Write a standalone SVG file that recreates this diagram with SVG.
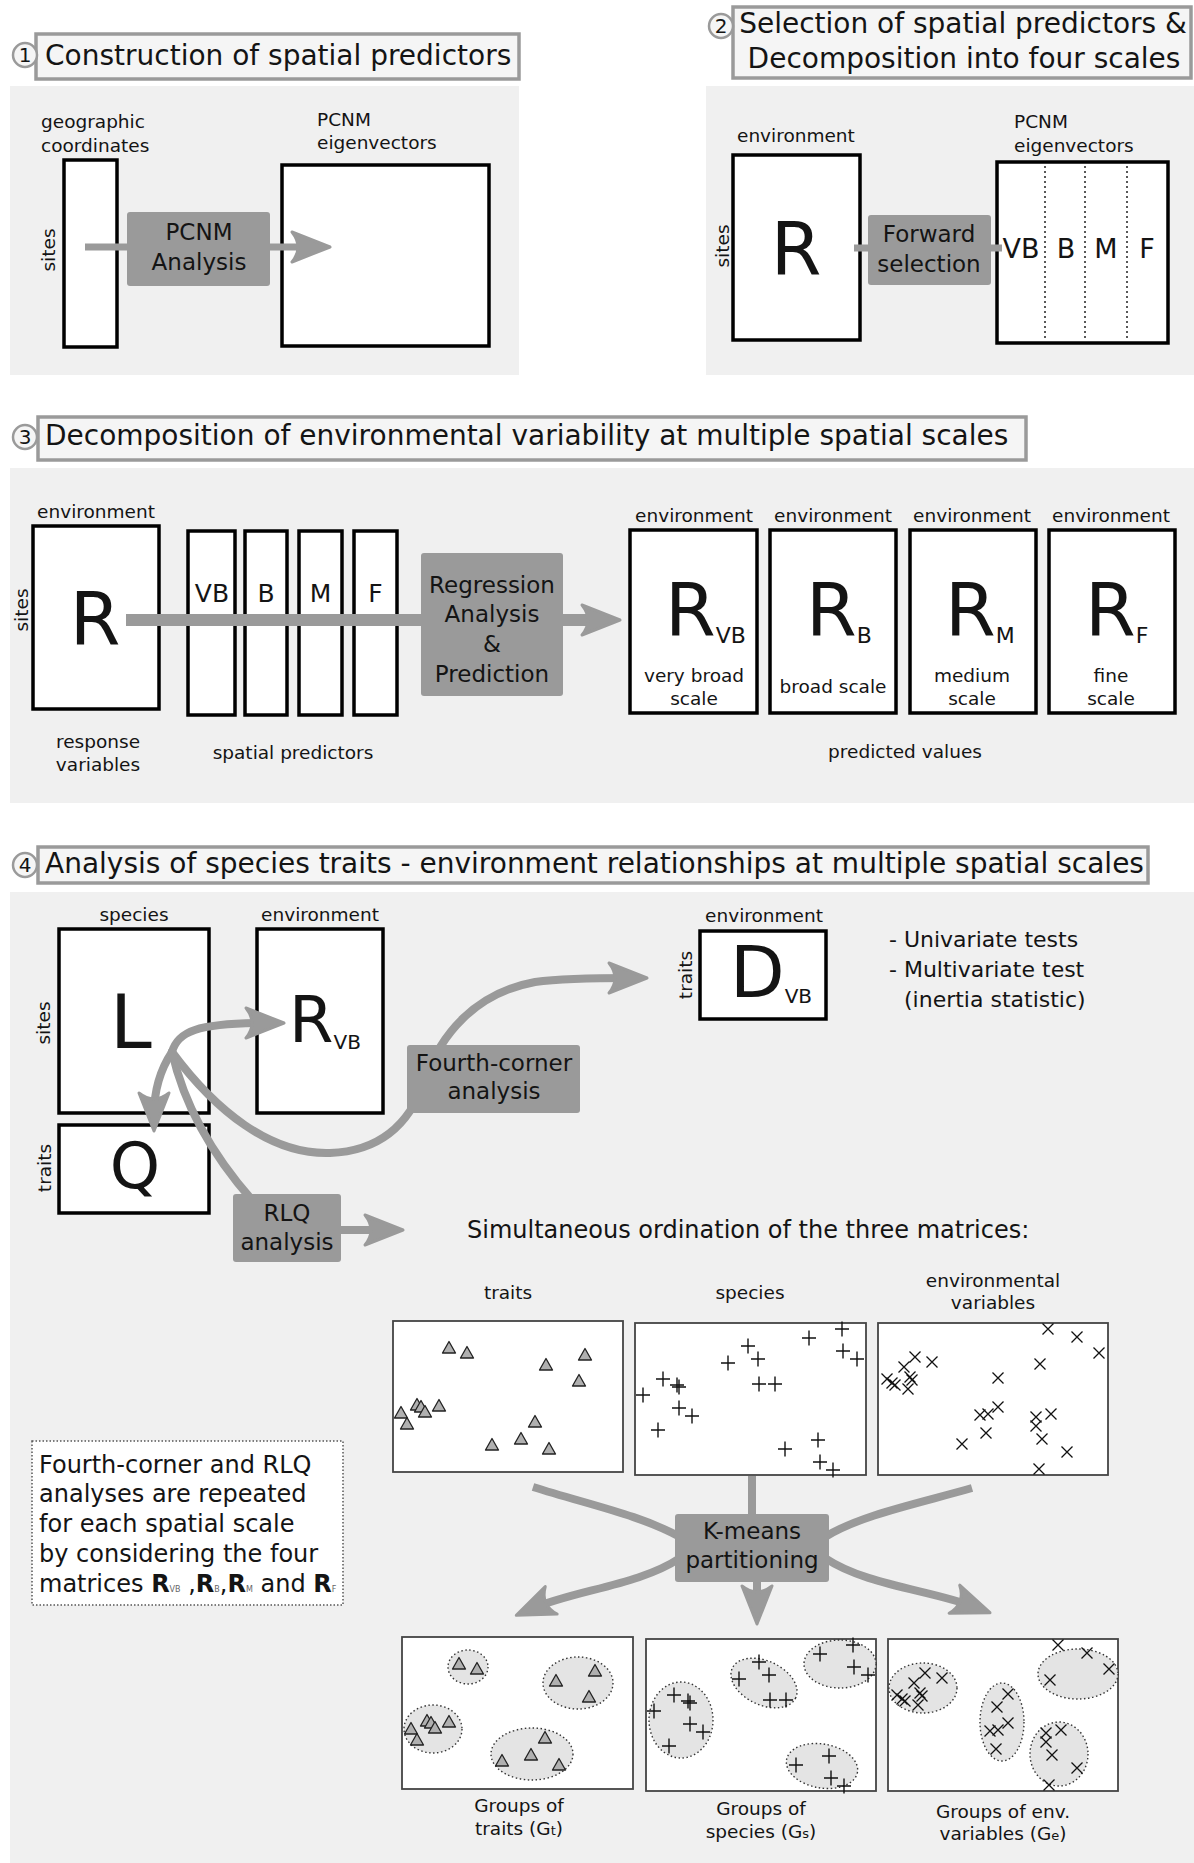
<svg xmlns="http://www.w3.org/2000/svg" width="1194" height="1863" viewBox="0 0 1194 1863">
<style>
text{font-family:"DejaVu Sans","Liberation Sans",sans-serif;fill:#141414}
.ttl{font-size:28px}
.lb{font-size:18.5px}
.m{text-anchor:middle}
.bt{font-size:23px;text-anchor:middle}
.pbg{fill:#f0f0f0}
.tb{fill:#f5f5f5;stroke:#9a9a9a;stroke-width:3.5}
.nc{fill:#f5f5f5;stroke:#9a9a9a;stroke-width:2.5}
.nt{font-size:20px;text-anchor:middle}
.mat{fill:#fff;stroke:#000;stroke-width:3.5}
.box{fill:#9a9a9a}
.plot{fill:#fff;stroke:#444;stroke-width:1.8}
.ell{fill:#e4e4e4;stroke:#333;stroke-width:1.4;stroke-dasharray:1.5 2.5}
.conn path{fill:none;stroke:#9a9a9a}
.big{font-size:73px}
.dot{stroke:#222;stroke-width:1.5;stroke-dasharray:2 3}
</style>
<defs>
<marker id="ah" markerUnits="userSpaceOnUse" viewBox="-2 -18 46 36" markerWidth="46" markerHeight="36" refX="24" refY="0" orient="auto">
<path d="M40,0 L2,-15 C10,-5 10,5 2,15 Z" fill="#9a9a9a" stroke="#9a9a9a" stroke-width="3" stroke-linejoin="round"/>
</marker>
<path id="tri" d="M0,-6.5 L6.5,5 L-6.5,5 Z" fill="#b0b0b0" stroke="#222" stroke-width="1.3" stroke-linejoin="round"/>
<path id="pl" d="M-7,0H7M0,-7.5V7.5" stroke="#111" stroke-width="1.4"/>
<path id="xx" d="M-5.5,-5.5L5.5,5.5M-5.5,5.5L5.5,-5.5" stroke="#111" stroke-width="1.3"/>
<g id="ptsT">
<use href="#tri" x="449" y="1348"/><use href="#tri" x="467" y="1353"/><use href="#tri" x="546" y="1365"/><use href="#tri" x="585" y="1355"/><use href="#tri" x="579" y="1381"/><use href="#tri" x="417" y="1405"/><use href="#tri" x="421" y="1407"/><use href="#tri" x="425" y="1412"/><use href="#tri" x="439" y="1406"/><use href="#tri" x="401" y="1413"/><use href="#tri" x="407" y="1424"/><use href="#tri" x="535" y="1422"/><use href="#tri" x="521" y="1439"/><use href="#tri" x="492" y="1445"/><use href="#tri" x="549" y="1449"/>
</g>
<g id="ptsS">
<use href="#pl" x="643" y="1395"/><use href="#pl" x="663" y="1379"/><use href="#pl" x="677" y="1385"/><use href="#pl" x="679" y="1387"/><use href="#pl" x="679" y="1408"/><use href="#pl" x="692" y="1416"/><use href="#pl" x="658" y="1430"/><use href="#pl" x="728" y="1363"/><use href="#pl" x="748" y="1346"/><use href="#pl" x="758" y="1359"/><use href="#pl" x="759" y="1384"/><use href="#pl" x="775" y="1384"/><use href="#pl" x="809" y="1338"/><use href="#pl" x="842" y="1329"/><use href="#pl" x="843" y="1351"/><use href="#pl" x="857" y="1359"/><use href="#pl" x="818" y="1440"/><use href="#pl" x="785" y="1449"/><use href="#pl" x="820" y="1462"/><use href="#pl" x="833" y="1470"/>
</g>
<g id="ptsE">
<use href="#xx" x="1048" y="1329"/><use href="#xx" x="1077" y="1337"/><use href="#xx" x="1099" y="1353"/><use href="#xx" x="1040" y="1364"/><use href="#xx" x="915" y="1357"/><use href="#xx" x="932" y="1362"/><use href="#xx" x="904" y="1367"/><use href="#xx" x="887" y="1379"/><use href="#xx" x="892" y="1383"/><use href="#xx" x="895" y="1385"/><use href="#xx" x="910" y="1377"/><use href="#xx" x="912" y="1380"/><use href="#xx" x="908" y="1389"/><use href="#xx" x="998" y="1378"/><use href="#xx" x="998" y="1407"/><use href="#xx" x="980" y="1415"/><use href="#xx" x="988" y="1414"/><use href="#xx" x="986" y="1433"/><use href="#xx" x="1036" y="1417"/><use href="#xx" x="1051" y="1414"/><use href="#xx" x="1036" y="1426"/><use href="#xx" x="1042" y="1439"/><use href="#xx" x="1067" y="1452"/><use href="#xx" x="1039" y="1469"/>
</g>
</defs>
<rect width="1194" height="1863" fill="#fff"/>

<!-- panel backgrounds -->
<rect class="pbg" x="10" y="86" width="509" height="289"/>
<rect class="pbg" x="706" y="86" width="488" height="289"/>
<rect class="pbg" x="10" y="468" width="1184" height="335"/>
<rect class="pbg" x="10" y="892" width="1184" height="971"/>

<!-- titles -->
<g id="title1"><rect class="tb" x="36" y="34" width="483" height="45"/><circle class="nc" cx="25" cy="55" r="12"/><text class="nt" x="25" y="62">1</text><text class="ttl" x="45" y="65">Construction of spatial predictors</text></g>
<g id="title2"><rect class="tb" x="733" y="7" width="458" height="71"/><circle class="nc" cx="721" cy="26" r="12"/><text class="nt" x="721" y="33">2</text><text class="ttl m" x="963" y="33">Selection of spatial predictors &amp;<tspan x="964" y="68">Decomposition into four scales</tspan></text></g>
<g id="title3"><rect class="tb" x="38" y="417" width="988" height="43"/><circle class="nc" cx="25" cy="437" r="12"/><text class="nt" x="25" y="444">3</text><text class="ttl" x="45" y="445">Decomposition of environmental variability at multiple spatial scales</text></g>
<g id="title4"><rect class="tb" x="38" y="847" width="1110" height="36"/><circle class="nc" cx="25" cy="865" r="12"/><text class="nt" x="25" y="872">4</text><text class="ttl" x="45" y="873">Analysis of species traits - environment relationships at multiple spatial scales</text></g>

<!-- panel 1 nodes -->
<g id="p1-coords"><rect class="mat" x="64" y="160" width="53" height="187"/><text class="lb" x="41" y="128">geographic</text><text class="lb" x="41" y="152">coordinates</text><text class="lb m" x="55" y="250" transform="rotate(-90 55 250)">sites</text></g>
<g id="p1-pcnm"><rect class="mat" x="282" y="165" width="207" height="181"/><text class="lb" x="317" y="126">PCNM</text><text class="lb" x="317" y="149">eigenvectors</text></g>

<!-- panel 2 nodes -->
<g id="p2-R"><rect class="mat" x="733" y="155" width="127" height="185"/><text class="lb" x="737" y="142">environment</text><text class="big m" x="796" y="275">R</text><text class="lb m" x="729" y="246" transform="rotate(-90 729 246)">sites</text></g>
<g id="p2-pcnm"><rect class="mat" x="997" y="162" width="171" height="181"/><line class="dot" x1="1045" y1="166" x2="1045" y2="340"/><line class="dot" x1="1085" y1="166" x2="1085" y2="340"/><line class="dot" x1="1127" y1="166" x2="1127" y2="340"/><text class="lb" x="1014" y="128">PCNM</text><text class="lb" x="1014" y="152">eigenvectors</text><g font-size="27" text-anchor="middle"><text x="1021" y="258">VB</text><text x="1066" y="258">B</text><text x="1106" y="258">M</text><text x="1147" y="258">F</text></g></g>

<!-- panel 3 nodes -->
<g id="p3-R"><rect class="mat" x="33" y="526" width="126" height="183"/><text class="lb m" x="96" y="518">environment</text><text class="big m" x="95" y="645">R</text><text class="lb m" x="28" y="610" transform="rotate(-90 28 610)">sites</text><text class="lb m" x="98" y="748">response</text><text class="lb m" x="98" y="771">variables</text></g>
<g id="p3-predictors"><rect class="mat" x="188" y="531" width="47" height="184"/><rect class="mat" x="245" y="531" width="42" height="184"/><rect class="mat" x="299" y="531" width="43" height="184"/><rect class="mat" x="354" y="531" width="43" height="184"/><g font-size="25" text-anchor="middle"><text x="212" y="602">VB</text><text x="266" y="602">B</text><text x="320.5" y="602">M</text><text x="375.5" y="602">F</text></g><text class="lb m" x="293" y="759">spatial predictors</text></g>
<g id="p3-RVB"><rect class="mat" x="630" y="530" width="127" height="183"/><text class="lb m" x="694" y="522">environment</text><text class="big" x="665" y="636">R<tspan font-size="22" dy="7">VB</tspan></text><text class="lb m" x="694" y="682">very broad</text><text class="lb m" x="694" y="705">scale</text></g>
<g id="p3-RB"><rect class="mat" x="770" y="530" width="126" height="183"/><text class="lb m" x="833" y="522">environment</text><text class="big" x="806" y="636">R<tspan font-size="22" dy="7">B</tspan></text><text class="lb m" x="833" y="693">broad scale</text></g>
<g id="p3-RM"><rect class="mat" x="910" y="530" width="126" height="183"/><text class="lb m" x="972" y="522">environment</text><text class="big" x="945" y="636">R<tspan font-size="22" dy="7">M</tspan></text><text class="lb m" x="972" y="682">medium</text><text class="lb m" x="972" y="705">scale</text></g>
<g id="p3-RF"><rect class="mat" x="1049" y="530" width="126" height="183"/><text class="lb m" x="1111" y="522">environment</text><text class="big" x="1085" y="636">R<tspan font-size="22" dy="7">F</tspan></text><text class="lb m" x="1111" y="682">fine</text><text class="lb m" x="1111" y="705">scale</text></g>
<text class="lb m" x="905" y="758">predicted values</text>

<!-- panel 4 nodes -->
<g id="p4-L"><rect class="mat" x="59" y="929" width="150" height="184"/><text class="lb m" x="134" y="921">species</text><text class="m" font-size="75" x="131" y="1048">L</text><text class="lb m" x="50" y="1023" transform="rotate(-90 50 1023)">sites</text></g>
<g id="p4-RVB"><rect class="mat" x="257" y="929" width="126" height="184"/><text class="lb m" x="320" y="921">environment</text><text font-size="64" x="289" y="1042">R<tspan font-size="20" dy="7">VB</tspan></text></g>
<g id="p4-Q"><rect class="mat" x="59" y="1125" width="150" height="88"/><text class="m" font-size="64" x="135" y="1188">Q</text><text class="lb m" x="51" y="1168" transform="rotate(-90 51 1168)">traits</text></g>
<g id="p4-D"><rect class="mat" x="700" y="931" width="126" height="88"/><text class="lb m" x="764" y="922">environment</text><text font-size="71" x="730" y="997">D<tspan font-size="20" dy="6">VB</tspan></text><text class="lb m" x="692" y="975" transform="rotate(-90 692 975)">traits</text></g>
<g id="p4-tests" font-size="22"><text x="889" y="947">- Univariate tests</text><text x="889" y="977">- Multivariate test</text><text x="904" y="1007">(inertia statistic)</text></g>
<text font-size="24" x="467" y="1238">Simultaneous ordination of the three matrices:</text>

<g id="plot-traits"><text class="lb m" x="508" y="1299">traits</text><rect class="plot" x="393" y="1321" width="230" height="151"/><use href="#ptsT"/></g>
<g id="plot-species"><text class="lb m" x="750" y="1299">species</text><rect class="plot" x="635" y="1323" width="231" height="152"/><use href="#ptsS"/></g>
<g id="plot-env"><text class="lb m" x="993" y="1287">environmental</text><text class="lb m" x="993" y="1309">variables</text><rect class="plot" x="878" y="1323" width="230" height="152"/><use href="#ptsE"/><use href="#xx" x="962" y="1444"/></g>

<g id="groups-traits"><rect class="plot" x="402" y="1637" width="231" height="152"/><ellipse class="ell" cx="468" cy="1667" rx="20" ry="17"/><ellipse class="ell" cx="578" cy="1683" rx="35" ry="26"/><ellipse class="ell" cx="433" cy="1729" rx="29" ry="24"/><ellipse class="ell" cx="532" cy="1754" rx="41" ry="26"/><use href="#ptsT" transform="translate(10,316)"/><text class="lb m" x="519" y="1812">Groups of</text><text class="lb m" x="519" y="1835">traits (G<tspan font-size="13">t</tspan>)</text></g>
<g id="groups-species"><rect class="plot" x="646" y="1639" width="230" height="152"/><ellipse class="ell" cx="681" cy="1720" rx="32" ry="38"/><ellipse class="ell" cx="764" cy="1683" rx="35" ry="22" transform="rotate(25 764 1683)"/><ellipse class="ell" cx="840" cy="1664" rx="36" ry="24"/><ellipse class="ell" cx="822" cy="1766" rx="36" ry="22" transform="rotate(10 822 1766)"/><use href="#ptsS" transform="translate(11,316)"/><text class="lb m" x="761" y="1815">Groups of</text><text class="lb m" x="761" y="1838">species (G<tspan font-size="13">s</tspan>)</text></g>
<g id="groups-env"><rect class="plot" x="888" y="1639" width="230" height="152"/><ellipse class="ell" cx="923" cy="1688" rx="34" ry="25"/><ellipse class="ell" cx="1002" cy="1722" rx="22" ry="39"/><ellipse class="ell" cx="1078" cy="1674" rx="40" ry="25"/><ellipse class="ell" cx="1059" cy="1754" rx="29" ry="32"/><use href="#ptsE" transform="translate(10,316)"/><use href="#xx" x="997" y="1707"/><text class="lb m" x="1003" y="1818">Groups of env.</text><text class="lb m" x="1003" y="1840">variables (G<tspan font-size="13">e</tspan>)</text></g>

<g id="note"><rect x="32" y="1441" width="311" height="164" fill="#fff" stroke="#555" stroke-width="1.5" stroke-dasharray="1.5 2"/><g font-size="24"><text x="39" y="1473">Fourth-corner and RLQ</text><text x="39" y="1502">analyses are repeated</text><text x="39" y="1532">for each spatial scale</text><text x="39" y="1562">by considering the four</text><text x="39" y="1592">matrices <tspan font-weight="bold">R</tspan><tspan font-size="8" fill="#666">VB</tspan> ,<tspan font-weight="bold">R</tspan><tspan font-size="8" fill="#666">B</tspan>,<tspan font-weight="bold">R</tspan><tspan font-size="8" fill="#666">M</tspan> and <tspan font-weight="bold">R</tspan><tspan font-size="8" fill="#666">F</tspan></text></g></g>

<!-- connectors -->
<g id="connectors" class="conn">
<path d="M85,247 H314" stroke-width="7" marker-end="url(#ah)"/>
<path d="M854,248 H1002" stroke-width="7"/>
<path d="M126,620 H604" stroke-width="12" marker-end="url(#ah)"/>
<path d="M172,1052 C178,1032 195,1023 268,1023" stroke-width="8" stroke-linecap="round" marker-end="url(#ah)"/>
<path d="M172,1052 C160,1070 154,1090 154,1115" stroke-width="8" stroke-linecap="round" marker-end="url(#ah)"/>
<path d="M172,1052 C215,1110 270,1155 330,1153 C385,1151 412,1118 425,1080 C440,1035 475,993 535,982 C565,978 600,978 631,978" stroke-width="8" stroke-linecap="round" marker-end="url(#ah)"/>
<path d="M172,1052 C183,1100 208,1150 252,1200" stroke-width="8" stroke-linecap="round"/>
<path d="M341,1230 H387" stroke-width="8" marker-end="url(#ah)"/>
<path d="M533,1487 C590,1505 640,1515 680,1537" stroke-width="8"/>
<path d="M752,1476 V1516" stroke-width="8"/>
<path d="M972,1488 C920,1503 860,1515 825,1537" stroke-width="8"/>
<path d="M680,1558 C640,1585 575,1590 531,1609" stroke-width="8" marker-end="url(#ah)"/>
<path d="M757,1580 V1608" stroke-width="8" marker-end="url(#ah)"/>
<path d="M825,1558 C865,1585 930,1590 975,1607" stroke-width="8" marker-end="url(#ah)"/>
</g>

<!-- process boxes -->
<g id="p1-analysis"><rect class="box" x="127" y="212" width="143" height="74" rx="3"/><text class="bt" x="199" y="240">PCNM</text><text class="bt" x="199" y="270">Analysis</text></g>
<g id="p2-forward"><rect class="box" x="868" y="215" width="123" height="70" rx="3"/><text class="bt" x="929" y="242">Forward</text><text class="bt" x="929" y="272">selection</text></g>
<g id="p3-regression"><rect class="box" x="421" y="553" width="142" height="143" rx="3"/><text class="bt" x="492" y="593">Regression</text><text class="bt" x="492" y="622">Analysis</text><text class="bt" x="492" y="652">&amp;</text><text class="bt" x="492" y="682">Prediction</text></g>
<g id="p4-fourth"><rect class="box" x="407" y="1045" width="173" height="68" rx="3"/><text class="bt" x="494" y="1071">Fourth-corner</text><text class="bt" x="494" y="1099">analysis</text></g>
<g id="p4-rlq"><rect class="box" x="233" y="1194" width="108" height="68" rx="3"/><text class="bt" x="287" y="1221">RLQ</text><text class="bt" x="287" y="1250">analysis</text></g>
<g id="p4-kmeans"><rect class="box" x="675" y="1514" width="154" height="68" rx="3"/><text class="bt" x="752" y="1539">K-means</text><text class="bt" x="752" y="1568">partitioning</text></g>
</svg>
